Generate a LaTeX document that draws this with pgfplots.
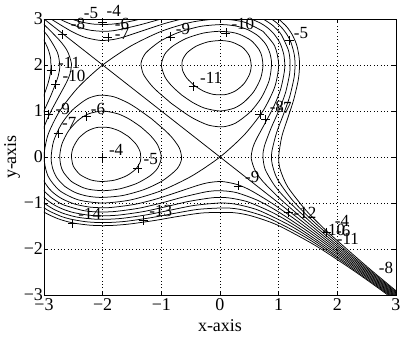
\documentclass[border=0pt]{standalone}
\usepackage{pgfplots}
\pgfplotsset{compat=1.18}
\usepackage{fontspec}
\setmainfont{Liberation Serif}
\newcommand{\tickfont}{\fontsize{18bp}{21bp}\selectfont}
\newcommand{\lblfont}{\fontsize{17bp}{20bp}\selectfont}
\begin{document}
\begin{tikzpicture}
\useasboundingbox (-44bp,-43bp) rectangle (365bp,295bp);
\begin{axis}[
  at={(0,0)}, anchor=south west,
  scale only axis, width=352bp, height=276bp,
  xmin=-3, xmax=3, ymin=-3, ymax=3,
  clip mode=individual,
  xtick={-3,-2,-1,0,1,2,3}, ytick={-3,-2,-1,0,1,2,3},
  xticklabels={−3,−2,−1,0,1,2,3}, yticklabels={−3,−2,−1,0,1,2,3},
  tick align=inside, major tick length=4bp,
  tick style={black, line width=0.6bp},
  grid=major, grid style={black, dash pattern=on 0.8bp off 2.6bp, line width=0.5bp},
  axis line style={black, line width=0.8bp},
  ticklabel style={font=\tickfont},
  yticklabel style={xshift=2.5bp},
  xlabel={x-axis}, ylabel={y-axis},
  xlabel style={at={(axis description cs:0.5,-0.1115)}, anchor=center, font=\tickfont},
  ylabel style={at={(axis description cs:-0.0909,0.5)}, anchor=center, font=\tickfont},
  cl/.style={black, line width=0.75bp, no markers, smooth, tension=0.45},
]
% level -8 : line and ellipse
\addplot[cl] coordinates {(-3,3) (3,-3)};
\addplot[cl] coordinates {(0.732,2.732) (0.932,2.414) (1.0,2.0) (0.932,1.518) (0.732,1.0) (0.414,0.482) (0,0) (-0.482,-0.414) (-1.0,-0.732) (-1.518,-0.932) (-2.0,-1.0) (-2.414,-0.932) (-2.732,-0.732) (-2.932,-0.414) (-3.0,0.0) (-2.932,0.482) (-2.732,1.0) (-2.414,1.518) (-2,2) (-1.518,2.414) (-1.0,2.732) (-0.482,2.932) (0,3.0) (0.414,2.932) (0.732,2.732)};
% level -7 open
\addplot[cl] coordinates {(3.213,-3.193) (2.495,-2.465) (1.794,-1.744) (1.313,-1.233) (1.004,-0.884) (0.732,-0.532) (0.601,-0.301) (0.533,-0.033) (0.557,0.193) (0.618,0.382) (0.767,0.733) (0.913,1.087) (1.0325,1.4675) (1.101,1.899) (1.09,2.21) (1.023,2.477) (0.912,2.688) (0.81,2.81) (0.688,2.912) (0.477,3.023) (0.21,3.09) (-0.101,3.101) (-0.5325,3.0325) (-0.913,2.913) (-1.267,2.767) (-1.618,2.618) (-1.807,2.557) (-2.033,2.533) (-2.301,2.601) (-2.532,2.732) (-2.884,3.004) (-3.233,3.313)};
% level -6 open
\addplot[cl] coordinates {(3.834,-3.804) (2.811,-2.761) (2.095,-2.015) (1.62,-1.5) (1.181,-0.981) (0.943,-0.643) (0.771,-0.271) (0.732,0.018) (0.758,0.242) (0.871,0.629) (1.0,1.0) (1.114,1.386) (1.187,1.813) (1.193,2.107) (1.162,2.338) (1.048,2.652) (0.982,2.758) (0.8795,2.8795) (0.758,2.982) (0.652,3.048) (0.338,3.162) (0.107,3.193) (-0.187,3.187) (-0.614,3.114) (-1.0,3.0) (-1.371,2.871) (-1.758,2.758) (-1.982,2.732) (-2.271,2.771) (-2.643,2.943) (-2.981,3.181)};
% level -5 open
\addplot[cl] coordinates {(3.608,-3.558) (2.714,-2.634) (2.115,-1.995) (1.549,-1.349) (1.23,-0.93) (0.976,-0.476) (0.887,-0.137) (0.884,0.116) (0.966,0.534) (1.08,0.92) (1.188,1.312) (1.264,1.736) (1.279,2.021) (1.265,2.235) (1.21,2.49) (1.145,2.655) (1.062,2.798) (0.942,2.942) (0.798,3.062) (0.655,3.145) (0.49,3.21) (0.235,3.265) (-0.264,3.264) (-0.688,3.188) (-1.08,3.08) (-1.466,2.966) (-1.667,2.917) (-1.884,2.884) (-2.137,2.887) (-2.324,2.924) (-2.476,2.976) (-2.667,3.067) (-2.93,3.23)};
% level -4 open
\addplot[cl] coordinates {(3.243,-3.163) (2.54,-2.42) (1.868,-1.668) (1.482,-1.182) (1.159,-0.659) (1.028,-0.278) (1.0,0.0) (1.054,0.446) (1.155,0.845) (1.256,1.244) (1.333,1.667) (1.355,1.945) (1.35,2.15) (1.319,2.381) (1.284,2.516) (1.223,2.677) (1.135,2.835) (1,3) (0.865,3.165)};
% level -9 open
\addplot[cl] coordinates {(-3.313,3.233) (-3.004,2.884) (-2.732,2.532) (-2.601,2.301) (-2.533,2.033) (-2.557,1.807) (-2.618,1.618) (-2.767,1.267) (-2.913,0.913) (-3.0325,0.5325) (-3.101,0.101) (-3.09,-0.21) (-3.023,-0.477) (-2.912,-0.688) (-2.81,-0.81) (-2.688,-0.912) (-2.477,-1.023) (-2.21,-1.09) (-1.899,-1.101) (-1.4675,-1.0325) (-1.087,-0.913) (-0.733,-0.767) (-0.382,-0.618) (-0.193,-0.557) (0.033,-0.533) (0.301,-0.601) (0.532,-0.732) (0.884,-1.004) (1.233,-1.313) (1.744,-1.794) (2.465,-2.495) (3.193,-3.213)};
% level -10 open
\addplot[cl] coordinates {(-3.62,3.5) (-3.181,2.981) (-2.943,2.643) (-2.771,2.271) (-2.732,1.982) (-2.758,1.758) (-2.871,1.371) (-3.0,1.0) (-3.114,0.614) (-3.187,0.187) (-3.193,-0.107) (-3.162,-0.338) (-3.048,-0.652) (-2.982,-0.758) (-2.8795,-0.8795) (-2.758,-0.982) (-2.652,-1.048) (-2.338,-1.162) (-2.107,-1.193) (-1.813,-1.187) (-1.386,-1.114) (-1,-1) (-0.629,-0.871) (-0.242,-0.758) (-0.018,-0.732) (0.271,-0.771) (0.643,-0.943) (0.981,-1.181) (1.5,-1.62) (2.015,-2.095) (2.761,-2.811) (3.804,-3.834)};
% level -11 open
\addplot[cl] coordinates {(-3.549,3.349) (-3.23,2.93) (-3.067,2.667) (-2.976,2.476) (-2.924,2.324) (-2.887,2.137) (-2.884,1.884) (-2.917,1.667) (-2.966,1.466) (-3.08,1.08) (-3.188,0.688) (-3.264,0.264) (-3.279,-0.021) (-3.265,-0.235) (-3.21,-0.49) (-3.145,-0.655) (-3.062,-0.798) (-2.942,-0.942) (-2.798,-1.062) (-2.655,-1.145) (-2.49,-1.21) (-2.235,-1.265) (-2.021,-1.279) (-1.736,-1.264) (-1.312,-1.188) (-0.92,-1.08) (-0.534,-0.966) (-0.116,-0.884) (0.137,-0.887) (0.476,-0.976) (0.93,-1.23) (1.349,-1.549) (1.995,-2.115) (2.634,-2.714) (3.558,-3.608)};
% level -12 open
\addplot[cl] coordinates {(-3.223,-0.677) (-3.135,-0.835) (-3,-1) (-2.835,-1.135) (-2.677,-1.223) (-2.516,-1.284) (-2.381,-1.319) (-2.15,-1.35) (-1.945,-1.355) (-1.667,-1.333) (-1.244,-1.256) (-0.845,-1.155) (-0.446,-1.054) (0,-1) (0.278,-1.028) (0.659,-1.159) (1.182,-1.482) (1.668,-1.868) (2.42,-2.54) (3.163,-3.243)};
% level -13 open
\addplot[cl] coordinates {(-3.125,-0.975) (-3.054,-1.054) (-2.975,-1.125) (-2.894,-1.186) (-2.711,-1.289) (-2.55,-1.35) (-2.294,-1.406) (-2.075,-1.425) (-1.877,-1.423) (-1.602,-1.398) (-1.18,-1.32) (-0.775,-1.225) (-0.363,-1.137) (0.107,-1.107) (0.407,-1.157) (0.827,-1.327) (1.409,-1.709) (1.954,-2.154) (2.799,-2.919) (3.632,-3.712)};
% level -14 open
\addplot[cl] coordinates {(-3.345,-0.755) (-3.104,-1.104) (-2.940,-1.240) (-2.755,-1.345) (-2.592,-1.408) (-2.455,-1.445) (-2.218,-1.482) (-2.008,-1.492) (-1.814,-1.486) (-1.543,-1.457) (-1.119,-1.381) (-0.709,-1.291) (-0.285,-1.215) (0.208,-1.208) (0.528,-1.278) (0.981,-1.481) (1.618,-1.918) (2.216,-2.416) (2.711,-2.861) (3.533,-3.633)};
% loops around (-2,0)
\addplot[cl] coordinates {(-1.168,0.832) (-0.9285,0.5685) (-0.808,0.408) (-0.691,0.191) (-0.655,-0.045) (-0.736,-0.264) (-0.982,-0.518) (-1.293,-0.707) (-1.662,-0.838) (-2.021,-0.879) (-2.247,-0.853) (-2.394,-0.806) (-2.494,-0.756) (-2.6415,-0.6415) (-2.756,-0.494) (-2.806,-0.394) (-2.853,-0.247) (-2.879,-0.021) (-2.838,0.338) (-2.707,0.707) (-2.518,1.018) (-2.264,1.264) (-2.045,1.345) (-1.809,1.309) (-1.592,1.192) (-1.4315,1.0715) (-1.168,0.832)};
\addplot[cl] coordinates {(-1.3473,0.6527) (-1.184,0.464) (-1.063,0.263) (-1.0,0.0) (-1.061,-0.239) (-1.192,-0.408) (-1.423,-0.577) (-1.708,-0.692) (-1.9685,-0.7315) (-2.187,-0.713) (-2.333,-0.667) (-2.532,-0.532) (-2.667,-0.333) (-2.713,-0.187) (-2.7315,0.0315) (-2.692,0.292) (-2.577,0.577) (-2.408,0.808) (-2.239,0.939) (-2.0,1.0) (-1.737,0.937) (-1.536,0.816) (-1.3473,0.6527)};
\addplot[cl] coordinates {(-1.558,0.442) (-1.433,0.283) (-1.361,0.111) (-1.357,-0.0926) (-1.437,-0.263) (-1.592,-0.408) (-1.797,-0.503) (-2.018,-0.532) (-2.201,-0.499) (-2.384,-0.384) (-2.499,-0.201) (-2.532,0.0182) (-2.503,0.203) (-2.408,0.408) (-2.263,0.563) (-2.093,0.643) (-1.889,0.639) (-1.717,0.567) (-1.558,0.442)};
% loops around (0,2)
\addplot[cl] coordinates {(-0.832,1.168) (-1.0715,1.4315) (-1.192,1.592) (-1.309,1.809) (-1.345,2.045) (-1.264,2.264) (-1.018,2.518) (-0.707,2.707) (-0.338,2.838) (0.021,2.879) (0.247,2.853) (0.394,2.806) (0.494,2.756) (0.6415,2.6415) (0.756,2.494) (0.806,2.394) (0.853,2.247) (0.879,2.021) (0.838,1.662) (0.707,1.293) (0.518,0.982) (0.264,0.736) (0.045,0.655) (-0.191,0.691) (-0.408,0.808) (-0.5685,0.9285) (-0.832,1.168)};
\addplot[cl] coordinates {(-0.6527,1.3473) (-0.816,1.536) (-0.937,1.737) (-1.0,2.0) (-0.939,2.239) (-0.808,2.408) (-0.577,2.577) (-0.292,2.692) (-0.0315,2.7315) (0.187,2.713) (0.333,2.667) (0.532,2.532) (0.667,2.333) (0.713,2.187) (0.7315,1.9685) (0.692,1.708) (0.577,1.423) (0.408,1.192) (0.239,1.061) (0,1.0) (-0.263,1.063) (-0.464,1.184) (-0.6527,1.3473)};
\addplot[cl] coordinates {(-0.442,1.558) (-0.567,1.717) (-0.639,1.889) (-0.643,2.0926) (-0.563,2.263) (-0.408,2.408) (-0.203,2.503) (0.018,2.532) (0.201,2.499) (0.384,2.384) (0.499,2.201) (0.532,1.9818) (0.503,1.797) (0.408,1.592) (0.263,1.437) (0.093,1.357) (-0.111,1.361) (-0.283,1.433) (-0.442,1.558)};
% label markers
\addplot[only marks, mark=+, mark size=4.5bp, black, mark options={line width=0.6bp}] coordinates {
(-2.69,2.66) (-2.0,2.92) (-1.91,2.60) (-0.84,2.61) (0.10,2.70) (1.18,2.53) (-0.46,1.54)
(-2.88,1.88) (-2.80,1.58) (-2.93,0.93) (-2.28,0.88) (-2.76,0.52) (-2.0,0.0) (-1.40,-0.24)
(0.68,0.93) (0.78,0.82) (0.31,-0.63) (-2.51,-1.45) (-1.31,-1.38) (1.16,-1.21) (1.82,-1.64)};
% label texts
\begin{scope}[every node/.style={font=\lblfont, inner sep=0pt, anchor=center}]
\node at (axis cs:-2.20,3.13) {-5};
\node at (axis cs:-1.81,3.17) {-4};
\node at (axis cs:-2.42,2.89) {-8};
\node at (axis cs:-1.67,2.89) {-6};
\node at (axis cs:-1.67,2.68) {-7};
\node at (axis cs:-0.63,2.78) {-9};
\node at (axis cs:0.39,2.89) {-10};
\node at (axis cs:1.38,2.70) {-5};
\node at (axis cs:-0.15,1.73) {-11};
\node at (axis cs:-2.57,2.05) {-11};
\node at (axis cs:-2.49,1.77) {-10};
\node at (axis cs:-2.68,1.04) {-9};
\node at (axis cs:-2.08,1.04) {-6};
\node at (axis cs:-2.57,0.73) {-7};
\node at (axis cs:-1.77,0.15) {-4};
\node at (axis cs:-1.18,-0.04) {-5};
\node at (axis cs:0.97,1.08) {-8};
\node at (axis cs:1.10,1.06) {-7};
\node at (axis cs:0.55,-0.43) {-9};
\node at (axis cs:-2.22,-1.23) {-14};
\node at (axis cs:-1.01,-1.17) {-13};
\node at (axis cs:1.45,-1.21) {-12};
\node at (axis cs:2.08,-1.40) {-4};
\node at (axis cs:1.94,-1.58) {-10};
\node at (axis cs:2.10,-1.60) {-6};
\node at (axis cs:2.18,-1.77) {-11};
\node at (axis cs:2.83,-2.42) {-8};
\end{scope}
\end{axis}
\end{tikzpicture}
\end{document}
